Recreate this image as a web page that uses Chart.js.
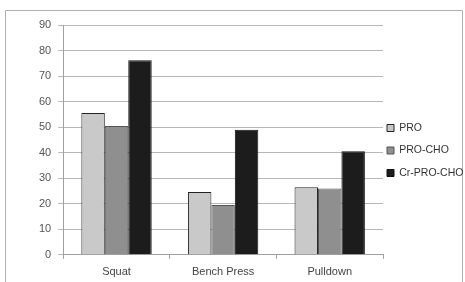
<!DOCTYPE html>
<html>
<head>
<meta charset="utf-8">
<script src="https://cdn.jsdelivr.net/npm/chart.js@4/dist/chart.umd.min.js"></script>
<style>
    html, body { margin: 0; padding: 0; background: #fff; }
    #wrap { position: relative; width: 465px; height: 282px; }
</style>
</head>
<body>
<div id="wrap"><canvas id="exerciseChart" width="465" height="282"></canvas></div>
<script>
const categories = ['Squat', 'Bench Press', 'Pulldown'];
const seriesNames = ['PRO', 'PRO-CHO', 'Cr-PRO-CHO'];
const proValues = [55.5, 24.6, 26.5];
const proChoValues = [50.4, 19.5, 26];
const crProChoValues = [76.2, 49, 40.6];
const yTicks = [0, 10, 20, 30, 40, 50, 60, 70, 80, 90];

const fillColors = ['#c9c9c9', '#8f8f8f', '#1c1c1c'];
const edgeColors = ['#222222', '#555555', '#111111'];

// thin frame round the whole chart (top, left, right only)
const frame = {
    id: 'frame',
    beforeDraw: function (chart) {
        const ctx = chart.ctx;
        ctx.save();
        ctx.strokeStyle = '#b0b0b0';
        ctx.lineWidth = 1;
        ctx.beginPath();
        ctx.moveTo(5.5, 282);
        ctx.lineTo(5.5, 10.5);
        ctx.lineTo(462.5, 10.5);
        ctx.lineTo(462.5, 282);
        ctx.stroke();
        ctx.restore();
    }
};

// legend sits close to the plot like in the office chart
const legendTweak = {
    id: 'legendTweak',
    beforeLayout: function (chart) {
        const legend = chart.legend;
        if (legend && !legend._patched) {
            const origFit = legend.fit;
            legend.fit = function () {
                origFit.call(this);
                this.width = 82;
            };
            legend._patched = true;
        }
    },
    afterLayout: function (chart) {
        const legend = chart.legend;
        legend.left -= 8;
        legend.right = 465;
        legend.top -= 5;
        legend.bottom -= 5;
    }
};

function drawChart() {
    const el = document.getElementById('exerciseChart');
    const values = [proValues, proChoValues, crProChoValues];

    new Chart(el, {
        type: 'bar',
        data: {
            labels: categories,
            datasets: seriesNames.map(function (name, i) {
                return {
                    label: name,
                    data: values[i],
                    backgroundColor: fillColors[i],
                    borderColor: edgeColors[i],
                    borderWidth: 1,
                    barPercentage: 1,
                    categoryPercentage: 0.66
                };
            })
        },
        options: {
            responsive: false,
            animation: false,
            devicePixelRatio: 1,
            layout: {
                padding: { top: 25, left: 32, right: 0, bottom: -4 }
            },
            plugins: {
                tooltip: { enabled: false },
                legend: {
                    position: 'right',
                    align: 'center',
                    labels: {
                        boxWidth: 7,
                        boxHeight: 7,
                        padding: 12,
                        color: '#333',
                        font: { family: 'Liberation Sans', size: 10.5 }
                    }
                }
            },
            scales: {
                x: {
                    grid: {
                        drawOnChartArea: false,
                        drawTicks: true,
                        tickLength: 4,
                        color: '#a0a0a0'
                    },
                    border: { color: '#a0a0a0' },
                    ticks: {
                        padding: 7,
                        color: '#444',
                        font: { family: 'Liberation Sans', size: 11 }
                    }
                },
                y: {
                    min: 0,
                    max: 90,
                    afterBuildTicks: function (axis) {
                        axis.ticks = yTicks.map(function (v) { return { value: v }; });
                    },
                    grid: {
                        color: '#b8b8b8',
                        tickLength: 5
                    },
                    border: { color: '#a0a0a0' },
                    ticks: {
                        padding: 7,
                        color: '#555',
                        font: { family: 'Liberation Sans', size: 11 }
                    }
                }
            }
        },
        plugins: [frame, legendTweak]
    });
}

drawChart();
</script>
</body>
</html>
